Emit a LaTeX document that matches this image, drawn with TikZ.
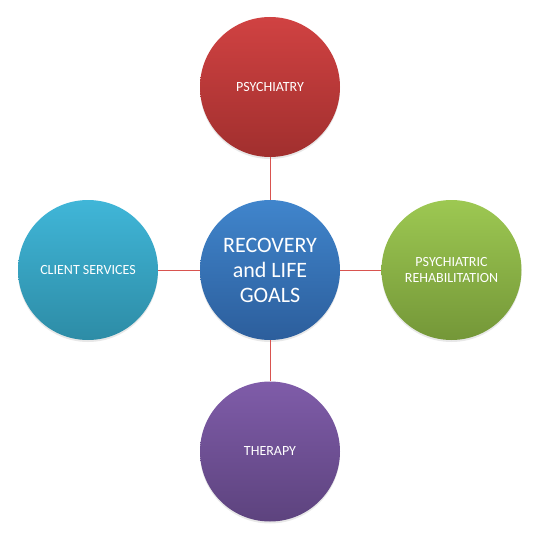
\documentclass[tikz,border=0pt]{standalone}
\usepackage{fontspec}
\setmainfont{Carlito}
\usetikzlibrary{shadows}
\definecolor{HubTop}{HTML}{4085CC}
\definecolor{HubBot}{HTML}{2C5E9C}
\definecolor{RedTop}{HTML}{D04242}
\definecolor{RedBot}{HTML}{A12F2E}
\definecolor{GreenTop}{HTML}{9DC852}
\definecolor{GreenBot}{HTML}{749738}
\definecolor{CyanTop}{HTML}{40B6D8}
\definecolor{CyanBot}{HTML}{2D8CA6}
\definecolor{PurpleTop}{HTML}{7F5CA9}
\definecolor{PurpleBot}{HTML}{5D437E}
\definecolor{Link}{HTML}{D9534F}

\begin{document}
\begin{tikzpicture}[x=1pt,y=-1pt,
          bubble/.style={circle,minimum size=140pt,inner sep=0pt,text=white,
                         align=center,font=\fontsize{14}{16}\selectfont,
                         drop shadow={opacity=0.18,shadow xshift=0pt,shadow yshift=-2pt}},
          link/.style={draw=Link,line width=0.7pt}]
        \useasboundingbox (0,0) rectangle (547,543);
        % hub in the middle, four areas around it
        \node[bubble,top color=HubTop,bottom color=HubBot,
              font=\fontsize{22}{25}\selectfont] (hub) at (270,270)
          {RECOVERY\\and LIFE\\GOALS};
        \foreach \name/\x/\y/\col/\txt in {%
            psych/270/87/Red/PSYCHIATRY,
            rehab/451.5/270/Green/PSYCHIATRIC\\REHABILITATION,
            client/88/270/Cyan/CLIENT SERVICES,
            therapy/270/451.5/Purple/THERAPY}{%
          \node[bubble,top color=\col Top,bottom color=\col Bot] (\name) at (\x,\y) {\txt};
          \draw[link] (hub) -- (\name);
        }
      \end{tikzpicture}
\end{document}
